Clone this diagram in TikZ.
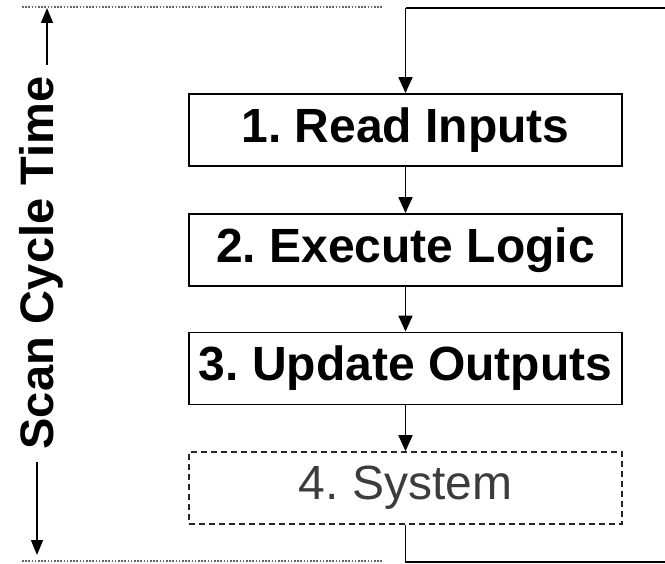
\documentclass[tikz,border=0pt]{standalone}
\usepackage{fontspec}
\setmainfont{Liberation Sans}
\usetikzlibrary{arrows.meta}
\frenchspacing
\definecolor{sysgray}{HTML}{3C3C3C}
\tikzset{
  stepbox/.style={draw=black, line width=1.8pt, minimum width=433pt, minimum height=72pt,
    inner sep=0pt, font=\fontsize{48}{50}\selectfont\bfseries},
  sysbox/.style={draw=black!85, dash pattern=on 6pt off 4pt, line width=1.6pt,
    minimum width=433pt, minimum height=72pt, inner sep=0pt,
    font=\fontsize{48}{50}\selectfont, text=sysgray},
  flow/.style={line width=1.8pt, -{Triangle[length=16pt,width=14pt]}},
  loopline/.style={line width=1.8pt},
  limit/.style={black!60, line width=1.1pt, dash pattern=on 1.6pt off 1.6pt},
  span/.style={line width=1.6pt, -{Triangle[length=15pt,width=12pt]}},
}
\begin{document}
\begin{tikzpicture}[x=1pt,y=-1pt]
\useasboundingbox (0,0) rectangle (665,564);

% the four phases of one scan
\node[stepbox] (read) at (405.5,130) {1. Read Inputs};
\node[stepbox] (exec) at (405.5,250) {2. Execute Logic};
\node[stepbox] (upd)  at (405.5,368.5) {3. Update Outputs};
\node[sysbox]  (sys)  at (405.5,488) {4. System};

\draw[flow] (read) -- (exec);
\draw[flow] (exec) -- (upd);
\draw[flow] (upd) -- (sys);

% return path back to the first phase
\coordinate (lb) at (405.5,562);
\coordinate (rb) at (666,562);
\coordinate (rt) at (666,8);
\coordinate (lt) at (405.5,8);
\draw[loopline] (sys.south) -- (lb) -- (rb) -- (rt) -- (lt);
\draw[flow] (lt) -- (read.north);

% limits of one scan cycle
\coordinate (topL) at (22,7);
\coordinate (topR) at (383,7);
\coordinate (botL) at (22,561);
\coordinate (botR) at (383,561);
\draw[limit] (topL) -- (topR);
\draw[limit] (botL) -- (botR);

% scan cycle time dimension
\node[rotate=90, anchor=base, font=\fontsize{47}{50}\selectfont\bfseries, inner sep=0pt]
  (label) at (53,263) {Scan Cycle Time};
\coordinate (upS) at (47,65);
\coordinate (upE) at (47,8);
\coordinate (dnS) at (37,462);
\coordinate (dnE) at (37,555);
\draw[span] (upS) -- (upE);
\draw[span] (dnS) -- (dnE);
\end{tikzpicture}
\end{document}
